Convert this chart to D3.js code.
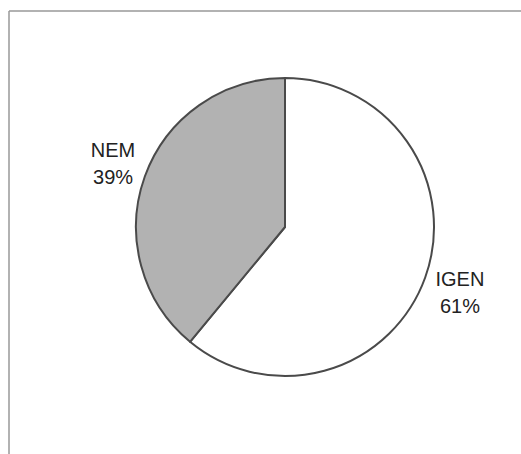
<!DOCTYPE html>
<html>
<head>
<meta charset="utf-8">
<script src="https://cdn.jsdelivr.net/npm/d3@7"></script>
<style>
  body { margin: 0; background: #fff; }
  text { font-family: "Liberation Sans", Arial, sans-serif; fill: #222; }
</style>
</head>
<body>
<div class="container"></div>
<script>
var width = 521;
var height = 454;

// Chart data
var categories = ["IGEN", "NEM"];
var values = [61, 39];
var fills = ["#ffffff", "#b2b2b2"];

var cx = 285, cy = 227, radius = 149;

var svg = d3.select(".container").append("svg")
  .attr("width", width)
  .attr("height", height);

// outer frame (only top and left edges are visible in the scan)
svg.append("line")
  .attr("x1", 9).attr("y1", 11).attr("x2", width).attr("y2", 11)
  .style("stroke", "#999").style("stroke-width", 1.5);
svg.append("line")
  .attr("x1", 9).attr("y1", 11).attr("x2", 9).attr("y2", height)
  .style("stroke", "#999").style("stroke-width", 1.5);

var data = categories.map(function (c, i) {
  return {name: c, value: values[i], fill: fills[i]};
});

// start at 12 o'clock, go clockwise: IGEN first, then NEM
var pie = d3.pie().sort(null).value(function (d) { return d.value; });
var arc = d3.arc().innerRadius(0).outerRadius(radius);

var g = svg.append("g")
  .attr("transform", "translate(" + cx + "," + cy + ")");

g.selectAll("path.slice")
  .data(pie(data))
  .enter().append("path")
  .attr("class", "slice")
  .attr("d", arc)
  .style("fill", function (d) { return d.data.fill; })
  .style("stroke", "#4a4a4a")
  .style("stroke-width", 2)
  .style("stroke-linejoin", "round");

// labels placed outside the pie, nudged a bit to sit like the original
var labelArc = d3.arc().innerRadius(radius + 38).outerRadius(radius + 38);
var nudge = {IGEN: [-1, 0], NEM: [4, -3]};

var labels = g.selectAll("text.label")
  .data(pie(data))
  .enter().append("text")
  .attr("class", "label")
  .style("text-anchor", "middle")
  .style("font-size", "20px")
  .attr("transform", function (d) {
    var p = labelArc.centroid(d);
    var n = nudge[d.data.name];
    return "translate(" + (p[0] + n[0]) + "," + (p[1] + n[1]) + ")";
  });

labels.append("tspan")
  .attr("x", 0)
  .attr("dy", "-0.2em")
  .text(function (d) { return d.data.name; });
labels.append("tspan")
  .attr("x", 0)
  .attr("dy", "1.35em")
  .text(function (d) { return d.data.value + "%"; });
</script>
</body>
</html>
